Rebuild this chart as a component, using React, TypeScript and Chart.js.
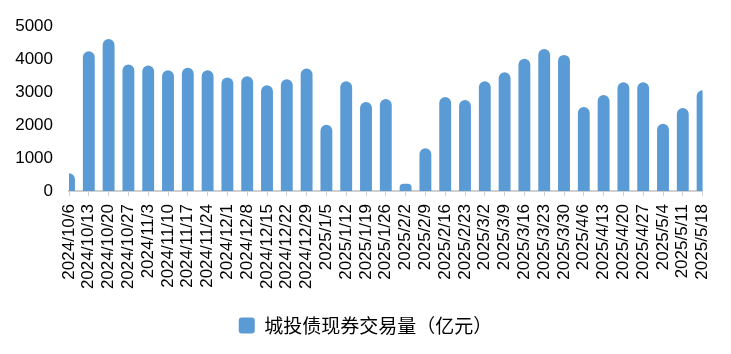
import React, { useEffect, useRef } from "react";
import { Chart, registerables } from "chart.js";

Chart.register(...registerables);

const categories = [
  "2024/10/6", "2024/10/13", "2024/10/20", "2024/10/27", "2024/11/3", "2024/11/10",
  "2024/11/17", "2024/11/24", "2024/12/1", "2024/12/8", "2024/12/15", "2024/12/22",
  "2024/12/29", "2025/1/5", "2025/1/12", "2025/1/19", "2025/1/26", "2025/2/2",
  "2025/2/9", "2025/2/16", "2025/2/23", "2025/3/2", "2025/3/9", "2025/3/16",
  "2025/3/23", "2025/3/30", "2025/4/6", "2025/4/13", "2025/4/20", "2025/4/27",
  "2025/5/4", "2025/5/11", "2025/5/18",
];

const volumes = [
  540, 4240, 4610, 3840, 3810, 3660,
  3740, 3660, 3440, 3480, 3210, 3390,
  3720, 2010, 3330, 2700, 2790, 220,
  1300, 2850, 2760, 3330, 3600, 4010,
  4310, 4130, 2550, 2910, 3300, 3300,
  2040, 2520, 3060,
];

const seriesName = "城投债现券交易量（亿元）";
const yTicks = [0, 1000, 2000, 3000, 4000, 5000];

export default function App() {
  const canvasRef = useRef<HTMLCanvasElement | null>(null);

  useEffect(() => {
    if (!canvasRef.current) return;
    const chart = new Chart(canvasRef.current, {
      type: "bar",
      data: {
        labels: categories,
        datasets: [
          {
            label: seriesName,
            data: volumes,
            backgroundColor: "#5b9bd5",
            borderWidth: 0,
            borderRadius: { topLeft: 6, topRight: 6, bottomLeft: 0, bottomRight: 0 },
            borderSkipped: false,
            categoryPercentage: 1,
            barPercentage: 0.6,
            clip: 0,
          } as any,
        ],
      },
      options: {
        animation: false,
        responsive: false,
        maintainAspectRatio: false,
        layout: { padding: { left: 0, right: 0, top: 22, bottom: 9 } },
        plugins: {
          tooltip: { enabled: false },
          legend: {
            position: "bottom",
            labels: {
              boxWidth: 16,
              boxHeight: 16,
              useBorderRadius: true,
              borderRadius: 3,
              color: "#000",
              font: { family: "'Noto Sans CJK SC', sans-serif", size: 19 },
            },
          },
        },
        scales: {
          x: {
            type: "category",
            offset: false,
            grid: {
              display: true,
              offset: false,
              drawOnChartArea: false,
              drawTicks: true,
              tickLength: 5,
              color: "#d0d0d0",
              lineWidth: 1,
            },
            border: { display: true, color: "#d0d0d0", width: 2 },
            ticks: {
              autoSkip: false,
              maxRotation: 90,
              minRotation: 90,
              padding: 8,
              color: "#000",
              font: { family: "'Liberation Sans', Arial, sans-serif", size: 17 },
            },
            afterFit: (s: any) => {
              s.height = 115;
            },
          },
          y: {
            min: 0,
            max: 5000,
            afterBuildTicks: (s: any) => {
              s.ticks = yTicks.map((v) => ({ value: v }));
            },
            grid: { display: false, drawTicks: false },
            border: { display: false },
            ticks: {
              padding: 16,
              color: "#000",
              font: { family: "'Liberation Sans', Arial, sans-serif", size: 17 },
              callback: (v: any) => String(v),
            },
            afterFit: (s: any) => {
              s.width = 69;
            },
          },
          y2: {
            position: "right",
            display: true,
            min: 0,
            max: 5000,
            grid: { display: false, drawTicks: false },
            border: { display: false },
            ticks: { display: false },
            afterFit: (s: any) => {
              s.width = 23;
            },
          },
        },
      },
    });
    return () => chart.destroy();
  }, []);

  return (
    <div style={{ position: "fixed", left: 0, top: 0, width: 731, height: 354, background: "#fff" }}>
      <canvas ref={canvasRef} width={731} height={354} style={{ width: 731, height: 354, display: "block" }} />
    </div>
  );
}
